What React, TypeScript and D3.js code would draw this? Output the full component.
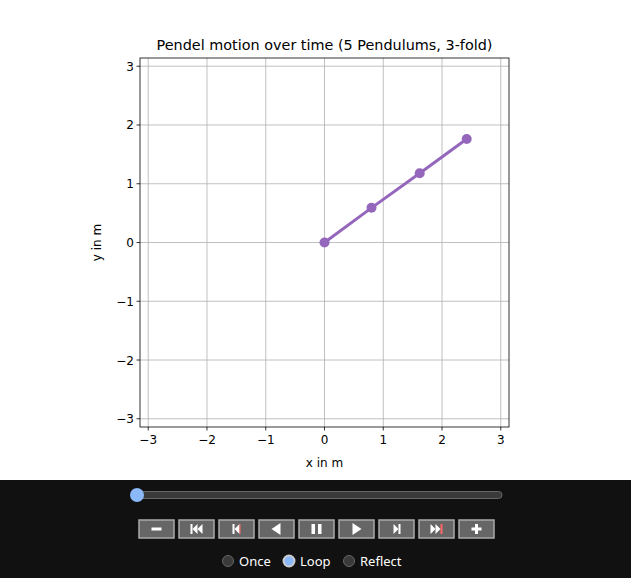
import * as d3 from 'd3'
import React from 'react'

const pointX = [0, 0.8, 1.62, 2.42]
const pointY = [0, 0.59, 1.18, 1.76]
const ticks = [-3, -2, -1, 0, 1, 2, 3]
const buttonIcons = ['minus', 'first', 'prev', 'back', 'pause', 'play', 'next', 'last', 'plus']
const modes = ['Once', 'Loop', 'Reflect']
const activeMode = 'Loop'

const W = 631
const H = 578
const margin = { left: 140, right: 122, top: 58, bottom: 151 }
const color = '#9467bd'

const Icon = ({ kind, cx, cy }: { kind: string; cx: number; cy: number }) => {
  const f = '#fff'
  switch (kind) {
    case 'minus':
      return <rect x={cx - 5} y={cy - 1.5} width={10} height={3} fill={f} />
    case 'plus':
      return (
        <g fill={f}>
          <rect x={cx - 5} y={cy - 1.5} width={10} height={3} />
          <rect x={cx - 1.5} y={cy - 5} width={3} height={10} />
        </g>
      )
    case 'first':
      return (
        <g fill={f}>
          <rect x={cx - 6} y={cy - 5} width={2} height={10} />
          <path d={`M${cx - 4},${cy} L${cx + 1},${cy - 5} L${cx + 1},${cy + 5}Z`} />
          <path d={`M${cx + 1},${cy} L${cx + 6},${cy - 5} L${cx + 6},${cy + 5}Z`} />
        </g>
      )
    case 'last':
      return (
        <g fill={f}>
          <rect x={cx + 4} y={cy - 5} width={2} height={10} fill="#f66" />
          <path d={`M${cx + 4},${cy} L${cx - 1},${cy - 5} L${cx - 1},${cy + 5}Z`} />
          <path d={`M${cx - 1},${cy} L${cx - 6},${cy - 5} L${cx - 6},${cy + 5}Z`} />
        </g>
      )
    case 'prev':
      return (
        <g fill={f}>
          <rect x={cx - 4} y={cy - 5} width={2} height={10} />
          <path d={`M${cx - 2},${cy} L${cx + 3},${cy - 5} L${cx + 3},${cy + 5}Z`} />
          <rect x={cx + 3} y={cy - 5} width={1} height={10} fill="#f66" />
        </g>
      )
    case 'next':
      return (
        <g fill={f}>
          <rect x={cx + 2} y={cy - 5} width={2} height={10} />
          <path d={`M${cx + 2},${cy} L${cx - 3},${cy - 5} L${cx - 3},${cy + 5}Z`} />
        </g>
      )
    case 'back':
      return <path d={`M${cx - 5},${cy} L${cx + 4},${cy - 6} L${cx + 4},${cy + 6}Z`} fill={f} />
    case 'play':
      return <path d={`M${cx + 5},${cy} L${cx - 4},${cy - 6} L${cx - 4},${cy + 6}Z`} fill={f} />
    case 'pause':
      return (
        <g fill={f}>
          <rect x={cx - 5} y={cy - 5} width={3.5} height={10} />
          <rect x={cx + 1.5} y={cy - 5} width={3.5} height={10} />
        </g>
      )
  }
  return null
}

export default function App() {
  const x = d3.scaleLinear().domain([-3.14, 3.14]).range([margin.left, W - margin.right])
  const y = d3.scaleLinear().domain([-3.14, 3.14]).range([H - margin.bottom, margin.top])
  const pts: [number, number][] = pointX.map((v, i) => [v, pointY[i]])
  const line = d3.line<[number, number]>().x(d => x(d[0])).y(d => y(d[1]))
  const font = 'DejaVu Sans, sans-serif'
  const x0 = x.range()[0], x1 = x.range()[1]
  const y0 = y.range()[1], y1 = y.range()[0]

  return (
    <svg width={W} height={H} style={{ position: 'absolute', left: 0, top: 0 }} fontFamily={font}>
      <rect width={W} height={H} fill="#fff" />
      {ticks.map(t => (
        <g key={t}>
          <line x1={x(t)} x2={x(t)} y1={y0} y2={y1} stroke="#b0b0b0" strokeWidth={0.8} />
          <line x1={x0} x2={x1} y1={y(t)} y2={y(t)} stroke="#b0b0b0" strokeWidth={0.8} />
          <line x1={x(t)} x2={x(t)} y1={y1} y2={y1 + 3.5} stroke="#000" strokeWidth={0.8} />
          <line x1={x0 - 3.5} x2={x0} y1={y(t)} y2={y(t)} stroke="#000" strokeWidth={0.8} />
          <text x={x(t)} y={y1 + 17} fontSize={12} textAnchor="middle">
            {t < 0 ? '\u2212' + -t : t}
          </text>
          <text x={x0 - 6} y={y(t) + 4.5} fontSize={12} textAnchor="end">
            {t < 0 ? '\u2212' + -t : t}
          </text>
        </g>
      ))}
      <path d={line(pts) ?? ''} fill="none" stroke={color} strokeWidth={3} />
      {pts.map((p, i) => (
        <circle key={i} cx={x(p[0])} cy={y(p[1])} r={5} fill={color} />
      ))}
      <rect x={x0} y={y0} width={x1 - x0} height={y1 - y0} fill="none" stroke="#000" strokeWidth={0.8} />
      <text x={(x0 + x1) / 2} y={50} fontSize={14.4} textAnchor="middle">
        Pendel motion over time (5 Pendulums, 3-fold)
      </text>
      <text x={(x0 + x1) / 2} y={467} fontSize={12} textAnchor="middle">x in m</text>
      <text transform={`translate(101,${(y0 + y1) / 2}) rotate(-90)`} fontSize={12} textAnchor="middle">
        y in m
      </text>

      <rect x={0} y={480} width={W} height={98} fill="#111" />
      <rect x={134} y={491.5} width={368} height={7} rx={3.5} fill="#3a3a3a" stroke="#666" strokeWidth={1} />
      <circle cx={137} cy={495} r={7} fill="#8ab8f8" />
      {buttonIcons.map((b, i) => {
        const bx = 139 + i * 40
        return (
          <g key={b}>
            <rect x={bx} y={520} width={35} height={18} fill="#666" stroke="#aaa" strokeWidth={1.5} />
            <Icon kind={b} cx={bx + 17.5} cy={529} />
          </g>
        )
      })}
      {modes.map((m, i) => {
        const mx = [228, 289, 349][i]
        const on = m === activeMode
        return (
          <g key={m}>
            <circle cx={mx} cy={561} r={5.5} fill={on ? '#8ab8f8' : '#3a3a3a'} stroke={on ? '#ccc' : '#666'} strokeWidth={on ? 2 : 1} />
            <text x={mx + 11} y={565.5} fontSize={13} fill="#fff" fontFamily="Segoe UI, Noto Sans, sans-serif">{m}</text>
          </g>
        )
      })}
    </svg>
  )
}
